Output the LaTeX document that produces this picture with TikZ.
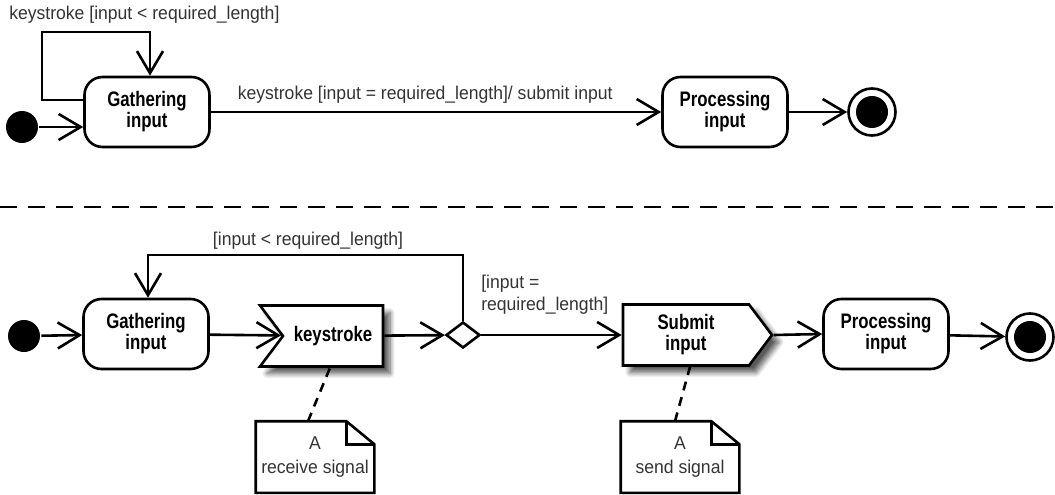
\documentclass[tikz,border=0pt]{standalone}
\usepackage{fontspec}
\setmainfont{Liberation Sans}[FakeStretch=0.95]
\newfontfamily\narrowfont{Liberation Sans}[FakeStretch=0.8]
\usetikzlibrary{positioning,arrows.meta,calc,shapes.symbols,shapes.geometric,shadows.blur}

\begin{document}
\begin{tikzpicture}[x=1pt,y=-1pt,line width=2.6pt,
  >={Straight Barb[length=22pt,width=26pt]},
  state/.style={draw,rounded corners=18pt,minimum width=125pt,minimum height=70pt,
    align=center,font=\narrowfont\bfseries\fontsize{21}{21}\selectfont},
  initial/.style={circle,fill,inner sep=0pt,minimum size=32pt},
  final/.style={circle,draw,inner sep=0pt,minimum size=47pt,
    path picture={\fill (path picture bounding box.center) circle (16pt);}},
  sigbox/.style={shape=signal,draw,fill=white,minimum height=61pt,align=center,
    signal pointer angle=106,font=\narrowfont\bfseries\fontsize{21}{21}\selectfont,
    blur shadow={shadow xshift=7pt,shadow yshift=-7pt,shadow blur steps=8,
      shadow blur radius=5pt,shadow opacity=65}},
  choice/.style={diamond,draw,inner sep=0pt,minimum width=34pt,minimum height=26pt},
  notebox/.style={minimum width=116pt,minimum height=69pt,inner sep=0pt,align=center,
    font=\fontsize{18.5}{24}\selectfont,text=black!80},
  guard/.style={font=\fontsize{18.5}{22}\selectfont,text=black!80,inner sep=0pt}]
  \useasboundingbox (0,0) rectangle (1055,495);

  % state machine version
  \node[initial] (ini1) at (22,127) {};
  \node[state] (gath1) at (147,112) {Gathering\\input};
  \node[state] (proc1) at (725,112) {Processing\\input};
  \node[final] (fin1) at (872,112) {};
  \draw[->] (ini1.east) -- (ini1.east -| gath1.west);
  \draw[->] ([yshift=12pt]gath1.west) -| (42,32) -| ([xshift=3pt]gath1.north);
  \node[guard,anchor=west] (loop1) at (8,15) {keystroke [input < required\_length]};
  \draw[->] (gath1) -- (proc1) node[guard,pos=0.476,above=7pt] (go1) {keystroke [input = required\_length]/ submit input};
  \draw[->] (proc1) -- (fin1);

  \draw[dashed,dash pattern=on 17pt off 11pt] (0,207) -- (1055,207);

  % activity version
  \node[initial] (ini2) at (24,336) {};
  \node[state] (gath2) at (146,334) {Gathering\\input};
  \node[sigbox,signal from=west,signal to=nothing,minimum width=123pt] (key) at (333,336) {keystroke};
  \node[choice] (dec) at (463,335) {};
  \node[sigbox,signal to=east,minimum width=149pt] (submit) at (686,335) {Submit\\input};
  \node[state] (proc2) at (886,334) {Processing\\input};
  \node[final] (fin2) at (1030,337) {};
  \draw[->] (ini2) -- (gath2);
  \draw[->] (gath2) -- (key);
  \draw[->] (key) -- (dec);
  \draw[->] (dec.north) -- (dec.north |- 0,255) -| ([xshift=2pt]gath2.north);
  \node[guard] (loop2) at (308,241) {[input < required\_length]};
  \draw[->] (dec.east) -- (submit.west);
  \node[guard,anchor=north west,align=left] (go2) at (480,274) {[input =\\required\_length]};
  \draw[->] (submit.east) -- (proc2.west);
  \draw[->] (proc2) -- (fin2);

  % notes
  \node[notebox] (noteA) at (315,457) {A\\receive signal};
  \node[notebox] (noteB) at (680,457) {A\\send signal};
  \foreach \n in {noteA,noteB} {
    \draw (\n.south west) -- (\n.north west) -- ([xshift=-28pt]\n.north east)
      -- ([yshift=-23pt]\n.north east) -- (\n.south east) -- cycle;
    \draw ([xshift=-28pt]\n.north east) |- ([yshift=-23pt]\n.north east);
  }
  \draw[dashed,dash pattern=on 9pt off 7pt] ([xshift=-7pt]noteA.north) -- ([xshift=-3pt]key.south);
  \draw[dashed,dash pattern=on 9pt off 7pt] ([xshift=-5pt]noteB.north) -- ([xshift=4pt]submit.south);
\end{tikzpicture}
\end{document}
